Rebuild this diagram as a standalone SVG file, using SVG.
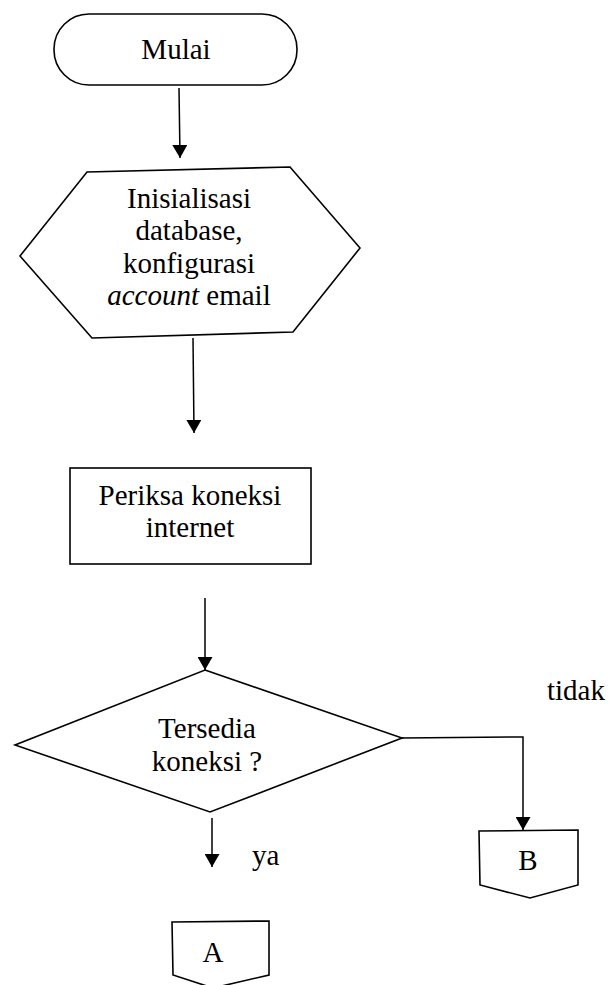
<svg xmlns="http://www.w3.org/2000/svg" width="609" height="985" viewBox="0 0 609 985">
  <style>
    .shape { fill: #ffffff; stroke: #000000; stroke-width: 1.6; }
    .edge { fill: none; stroke: #000000; stroke-width: 1.5; }
    .label { font-family: "Liberation Serif", "Times New Roman", serif; font-size: 29px; fill: #000000; text-anchor: middle; }
    .side { font-family: "Liberation Serif", "Times New Roman", serif; font-size: 29px; fill: #000000; }
  </style>
  <defs>
    <marker id="arrow" viewBox="0 0 13 15" refX="13" refY="7.5" markerWidth="13" markerHeight="15" markerUnits="userSpaceOnUse" orient="auto">
      <path d="M0,0 L13,7.5 L0,15 Z" fill="#000000"/>
    </marker>
  </defs>
  <rect width="609" height="985" fill="#ffffff"/>

  <g id="connectors">
    <line class="edge" x1="179" y1="88" x2="180" y2="158" marker-end="url(#arrow)"/>
    <line class="edge" x1="193" y1="338" x2="194" y2="433" marker-end="url(#arrow)"/>
    <line class="edge" x1="205" y1="598" x2="205" y2="670" marker-end="url(#arrow)"/>
    <polyline class="edge" points="402,738 523,737 523,830" marker-end="url(#arrow)"/>
    <line class="edge" x1="212" y1="818" x2="212" y2="867" marker-end="url(#arrow)"/>
  </g>

  <g id="start">
    <rect class="shape" x="54" y="14" width="243" height="71" rx="35" ry="35"/>
    <text class="label" x="176" y="59">Mulai</text>
  </g>

  <g id="prepare">
    <polygon class="shape" points="87,172 290,167 360,248 293,332 92,338 20,256"/>
    <text class="label" x="189" y="208">Inisialisasi</text>
    <text class="label" x="189" y="240">database,</text>
    <text class="label" x="189" y="273">konfigurasi</text>
    <text class="label" x="189" y="305"><tspan font-style="italic">account</tspan> email</text>
  </g>

  <g id="check">
    <rect class="shape" x="70" y="468" width="241" height="96"/>
    <text class="label" x="190" y="505">Periksa koneksi</text>
    <text class="label" x="190" y="537">internet</text>
  </g>

  <g id="decision">
    <polygon class="shape" points="205,670 402,738 210,812 15,745"/>
    <text class="label" x="207" y="738">Tersedia</text>
    <text class="label" x="207" y="771">koneksi ?</text>
  </g>

  <g id="label-tidak">
    <text class="side" x="547" y="700">tidak</text>
  </g>
  <g id="label-ya">
    <text class="side" x="252" y="865">ya</text>
  </g>

  <g id="connector-b">
    <polygon class="shape" points="479,831 578,830 578,885 530,898 480,885"/>
    <text class="label" x="528" y="870">B</text>
  </g>

  <g id="connector-a">
    <polygon class="shape" points="172,922 269,921 269,975 213,988 173,975"/>
    <text class="label" x="213" y="962">A</text>
  </g>
</svg>
